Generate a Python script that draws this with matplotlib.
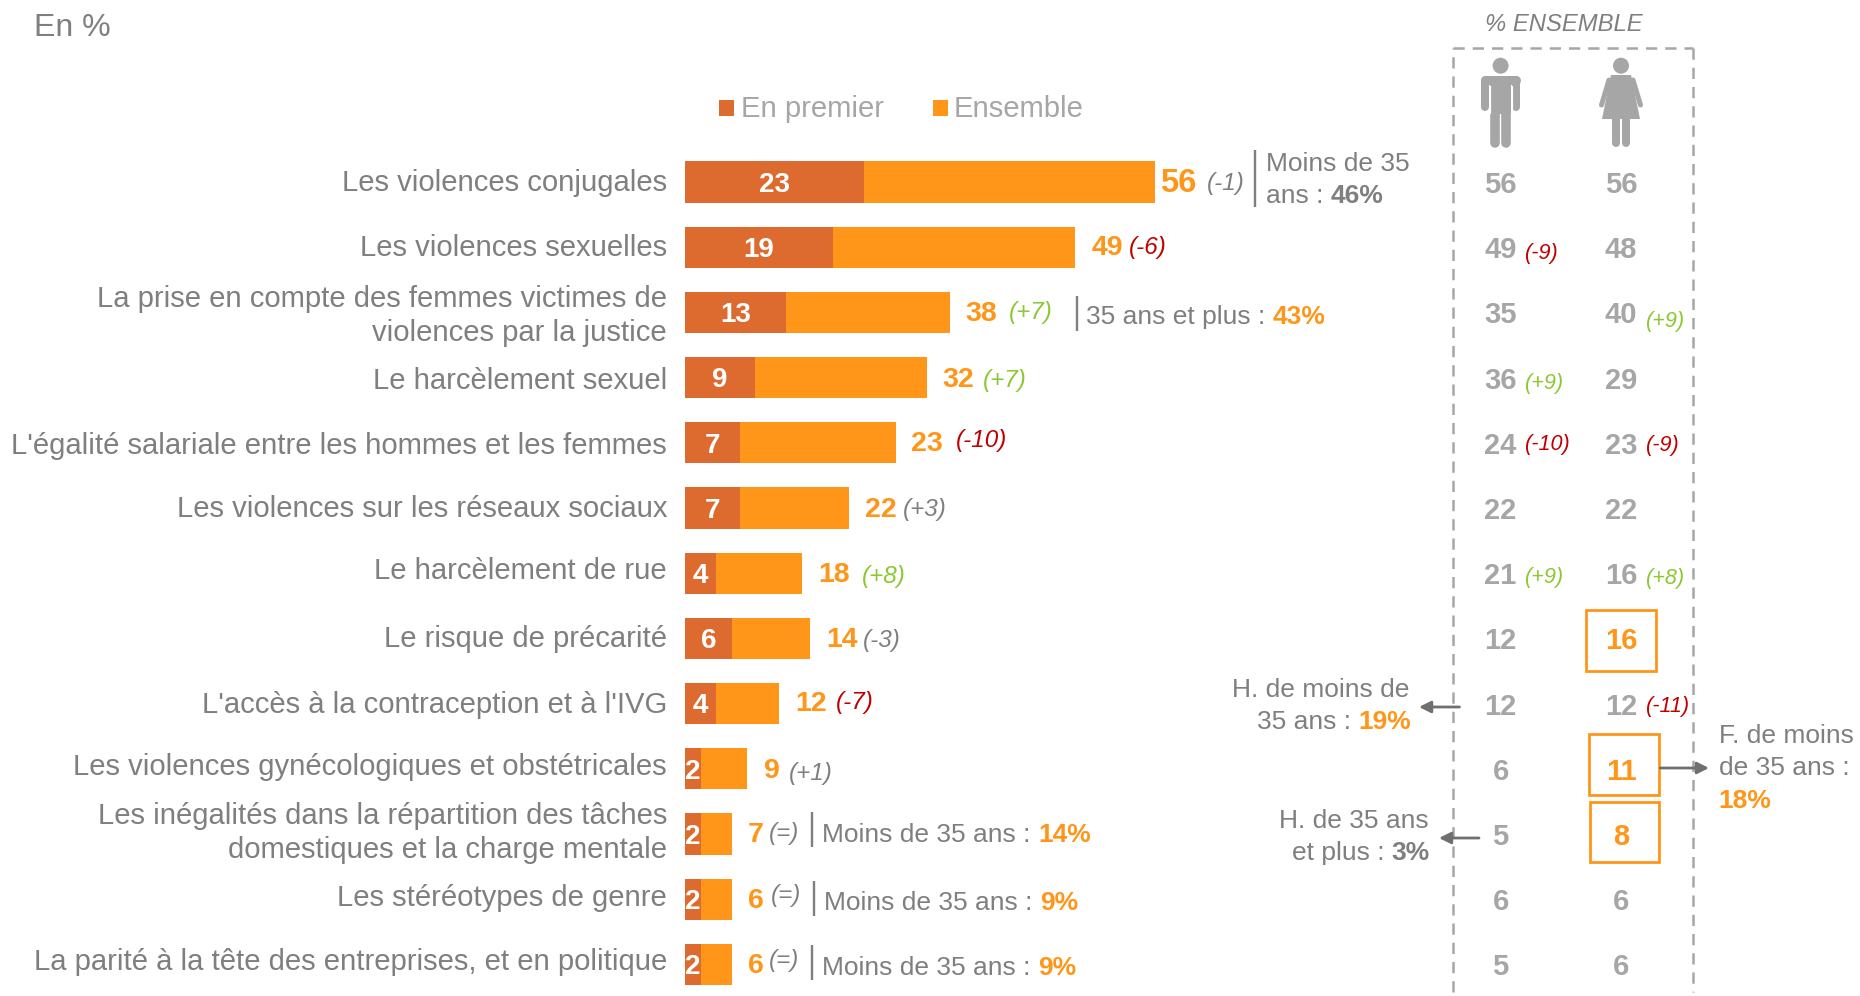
import matplotlib
matplotlib.use('Agg')
import matplotlib.pyplot as plt
from matplotlib.patches import Rectangle, Circle, Polygon

plt.rcParams['font.family'] = ['Liberation Sans', 'DejaVu Sans']

categories = [
    "Les violences conjugales",
    "Les violences sexuelles",
    "La prise en compte des femmes victimes de\nviolences par la justice",
    "Le harcèlement sexuel",
    "L'égalité salariale entre les hommes et les femmes",
    "Les violences sur les réseaux sociaux",
    "Le harcèlement de rue",
    "Le risque de précarité",
    "L'accès à la contraception et à l'IVG",
    "Les violences gynécologiques et obstétricales",
    "Les inégalités dans la répartition des tâches\ndomestiques et la charge mentale",
    "Les stéréotypes de genre",
    "La parité à la tête des entreprises, et en politique",
]
en_premier = [23, 19, 13, 9, 7, 7, 4, 6, 4, 2, 2, 2, 2]
# second segment as drawn (does not always equal ensemble - en premier in the source)
reste = [37.3, 31, 21, 22, 20, 14, 11, 10, 8, 6, 4, 4, 4]
ensemble = [56, 49, 38, 32, 23, 22, 18, 14, 12, 9, 7, 6, 6]
evolution = ["(-1)", "(-6)", "(+7)", "(+7)", "(-10)", "(+3)", "(+8)", "(-3)", "(-7)", "(+1)", "(=)", "(=)", "(=)"]

hommes = [56, 49, 35, 36, 24, 22, 21, 12, 12, 6, 5, 6, 5]
femmes = [56, 48, 40, 29, 23, 22, 16, 16, 12, 11, 8, 6, 6]
evol_hommes = {1: "(-9)", 3: "(+9)", 4: "(-10)", 6: "(+9)"}
evol_femmes = {2: "(+9)", 4: "(-9)", 6: "(+8)", 8: "(-11)"}
encadre = [7, 9, 10]

# pixel positions of the free labels
label_dy = [1, 1, 4, 3, 3, 1, -2, 1, 1, -2, -1, -1, -2]
total_x = [1160, 1092, 965, 942, 911, 865, 818, 826, 795, 764, 748, 748, 748]
total_y = [181, 246, 312, 378, 442, 508, 573, 638, 702, 769, 833, 899, 964]
evol_x = [1207, 1129, 1009, 983, 956, 903, 862, 863, 836, 789, 769, 771, 769]
evol_y = [181, 245, 310, 378, 438, 507, 574, 638, 700, 771, 831, 893, 958]
hommes_dy = {1: 3.5, 3: 2.4, 4: -1.2, 6: 1.2}
femmes_dy = {2: 5.7, 4: 0, 6: 2.2, 8: 0}

ORANGE = '#FF9619'
ORANGE_FONCE = '#DD6B2F'
GRIS = '#7F7F7F'
GRIS_CLAIR = '#A6A6A6'
VERT = '#8CC832'
ROUGE = '#C00000'

W, H = 1860, 996
PX = 0.72  # px -> pt at dpi 100
ROW0, ROW_H = 182, 65.2


def evol_color(s):
    if s == "(=)":
        return GRIS
    v = int(s.strip("()"))
    if abs(v) < 5:
        return GRIS
    return VERT if v > 0 else ROUGE


fig = plt.figure(figsize=(W / 100, H / 100), dpi=100)

# bars: 7.8 px per point
ax = fig.add_axes([685 / W, 0, 7.8 * 65 / W, (H - ROW0 + ROW_H / 2) / H])
pos = list(range(len(categories)))
b1 = ax.barh(pos, en_premier, height=0.63, color=ORANGE_FONCE)
b2 = ax.barh(pos, reste, left=en_premier, height=0.63, color=ORANGE)
for a in ax.bar_label(b1, labels=[str(v) for v in en_premier], label_type='center',
                      color='white', fontweight='bold', fontsize=20):
    a.xyann = (0, -2)
ax.set_xlim(0, 65)
ax.set_ylim((H - ROW0) / ROW_H, -0.5)
ax.set_xticks([])
ax.set_yticks([])
for s in ax.spines.values():
    s.set_visible(False)

# overlay in pixel coordinates
ov = fig.add_axes([0, 0, 1, 1], zorder=5)
ov.set_xlim(0, W)
ov.set_ylim(H, 0)
ov.axis('off')


def put(x, y, s, size, color=GRIS, **kw):
    ov.text(x, y + 2, s, fontsize=size, color=color, va='center', **kw)


put(34, 26, "En %", 23)

for i, c in enumerate(categories):
    put(667, ROW0 + ROW_H * i + label_dy[i] - 2, c, 21.05, ha='right', ma='right', linespacing=1.28)

# legend
ov.add_patch(Rectangle((719, 100), 15, 16, color=ORANGE_FONCE, lw=0))
put(741, 107, "En premier", 21.1, GRIS_CLAIR)
ov.add_patch(Rectangle((933, 100), 15, 16, color=ORANGE, lw=0))
put(954, 107, "Ensemble", 21.1, GRIS_CLAIR)

# totals and evolutions
for i, v in enumerate(ensemble):
    put(total_x[i], total_y[i], str(v), 23.5 if i == 0 else 20.5, ORANGE, fontweight='bold')
    put(evol_x[i], evol_y[i], evolution[i], 17.5, evol_color(evolution[i]), style='italic')


def sep(x, y0, y1):
    ov.plot([x, x], [y0, y1], color=GRIS, lw=1.7, solid_capstyle='butt')


# side notes
sep(1254.5, 150, 207)
put(1266, 162, "Moins de 35", 19)
put(1266, 194, "ans : ", 19)
put(1331, 194, "46%", 19, fontweight='bold')
sep(1077, 296, 331)
put(1086, 315, "35 ans et plus : ", 19)
put(1273, 315, "43%", 19, ORANGE, fontweight='bold')
sep(812, 812, 847)
put(822, 833, "Moins de 35 ans : ", 19)
put(1038, 833, "14%", 19, ORANGE, fontweight='bold')
sep(814, 881, 916)
put(824, 901, "Moins de 35 ans : ", 19)
put(1040, 901, "9%", 19, ORANGE, fontweight='bold')
sep(812, 945, 980)
put(822, 966, "Moins de 35 ans : ", 19)
put(1038, 966, "9%", 19, ORANGE, fontweight='bold')

# right panel
put(1563.5, 22, "% ENSEMBLE", 17.2, ha='center', style='italic')
dash = dict(color=GRIS_CLAIR, lw=1.8, ls=(0, (4.5, 3.2)))
ov.plot([1453, 1453], [992, 48], **dash)
ov.plot([1453, 1692.6], [48, 48], **dash)
ov.plot([1692.6, 1692.6], [48, 992], **dash)

# man
ICON = GRIS_CLAIR
mx, wx = 1500.6, 1621
ov.add_patch(Circle((mx, 65.7), 8, color=ICON, lw=0))
ov.add_patch(Rectangle((mx - 10.7, 78), 21.4, 36, color=ICON, lw=0))
ov.plot([mx - 15, mx + 15], [80, 80], color=ICON, lw=9 * PX, solid_capstyle='round')
for dx in (-15.4, 15.4):
    ov.plot([mx + dx, mx + dx], [80, 107], color=ICON, lw=8 * PX, solid_capstyle='round')
for dx in (-5.7, 5.7):
    ov.plot([mx + dx, mx + dx], [110, 143], color=ICON, lw=9.6 * PX, solid_capstyle='round')
for dx in (-11, 11):
    ov.plot([mx + dx, mx + dx], [86, 113], color='white', lw=1.2 * PX)

# woman
ov.add_patch(Circle((wx, 65.7), 8, color=ICON, lw=0))
ov.add_patch(Polygon([(wx - 10, 75), (wx + 10, 75), (wx + 19, 119), (wx - 19, 119)],
                     closed=True, color=ICON, lw=0))
for sgn in (-1, 1):
    ov.plot([wx + sgn * 12, wx + sgn * 19.5], [80, 105], color=ICON, lw=5 * PX, solid_capstyle='round')
    ov.plot([wx + sgn * 5, wx + sgn * 5], [118, 143], color=ICON, lw=8 * PX, solid_capstyle='round')

for i in pos:
    y = 183 + ROW_H * i
    put(mx, y, str(hommes[i]), 21, GRIS_CLAIR, ha='center', fontweight='bold')
    put(wx, y, str(femmes[i]), 21, ORANGE if i in encadre else GRIS_CLAIR,
        ha='center', fontweight='bold')
    if i in evol_hommes:
        put(1525, y + hommes_dy[i], evol_hommes[i], 15.6, evol_color(evol_hommes[i]), style='italic')
    if i in evol_femmes:
        put(1646, y + femmes_dy[i], evol_femmes[i], 15.6, evol_color(evol_femmes[i]), style='italic')

# boxes
for (x0, x1, y0, y1) in [(1586.4, 1656.2, 610, 671), (1589, 1658.8, 734, 795), (1589.5, 1659.2, 802, 862)]:
    ov.add_patch(Rectangle((x0, y0), x1 - x0, y1 - y0, fill=False, ec=ORANGE, lw=2))


def arrow(x0, x1, y):
    ov.annotate("", xy=(x1, y), xytext=(x0, y),
                arrowprops=dict(arrowstyle='-|>,head_width=0.35,head_length=0.7', color='#6F6F6F',
                                lw=2, shrinkA=0, shrinkB=0))


arrow(1459.5, 1419, 707)
put(1409, 688, "H. de moins de", 19, ha='right')
put(1358, 720, "35 ans : ", 19, ha='right')
put(1358, 720, "19%", 19, ORANGE, fontweight='bold')

arrow(1479, 1439, 838)
put(1429, 819, "H. de 35 ans", 19, ha='right')
put(1391.5, 851, "et plus : ", 19, ha='right')
put(1391.5, 851, "3%", 19, fontweight='bold')

arrow(1660, 1709, 768)
put(1718.6, 734, "F. de moins", 19)
put(1718.6, 766, "de 35 ans :", 19)
put(1718.6, 799, "18%", 19, ORANGE, fontweight='bold')

fig.savefig('out.png', dpi=100)
